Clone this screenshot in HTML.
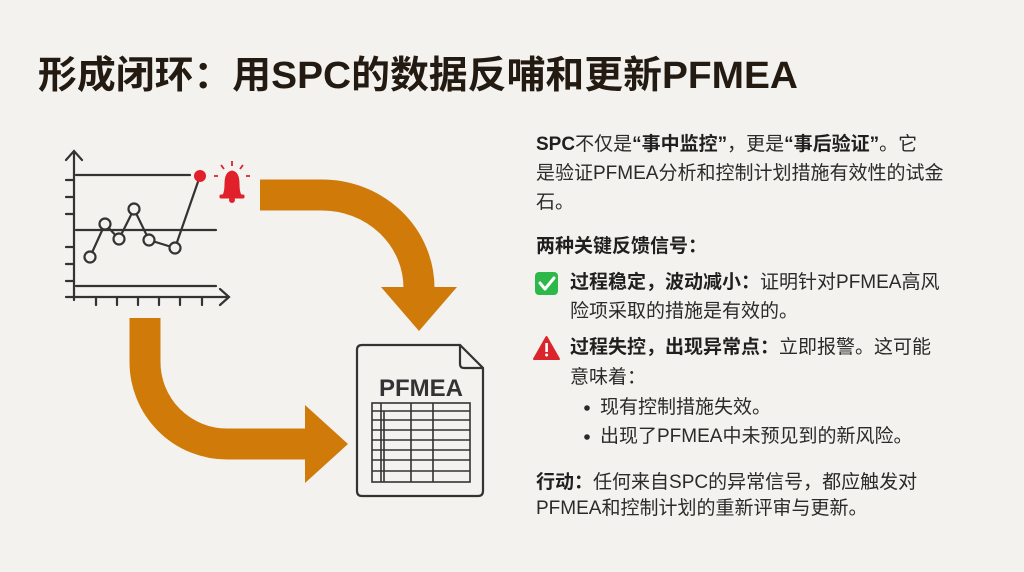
<!DOCTYPE html>
<html><head><meta charset="utf-8">
<style>
body{margin:0;width:1024px;height:572px;background:#f3f2ee;overflow:hidden;position:relative;font-family:"Liberation Sans","Noto Sans CJK SC",sans-serif;color:#2a2a2a}
.l{position:absolute;font-size:19px;line-height:29px;white-space:nowrap}
b{font-weight:bold;color:#1f1f1f}
</style></head><body>
<svg width="1024" height="572" style="position:absolute;left:0;top:0">
<text x="38" y="88" font-family="Liberation Sans,Noto Sans CJK SC,sans-serif" font-weight="bold" font-size="38" fill="#231a12" textLength="760" lengthAdjust="spacingAndGlyphs">形成闭环：用SPC的数据反哺和更新PFMEA</text>
<!-- chart -->
<g stroke="#333" stroke-width="2.2" fill="none" stroke-linecap="round">
<path d="M74 300 V152 M66 160 L74 151 L82 160"/>
<path d="M66 297 H228 M220 289 L229 297 L220 305"/>
<path d="M66 180H74 M66 197H74 M66 214H74 M66 247H74 M66 264H74 M66 281H74"/>
<path d="M96 297V305 M117 297V305 M138 297V305 M159 297V305 M180 297V305 M202 297V305"/>
<path d="M76 175H190 M76 230H216 M76 286H216"/>
<path d="M90 257 L105 224 L119 239 L134 209 L149 240 L175 248 L200 176"/>
</g>
<g stroke="#333" stroke-width="2.2" fill="#f3f2ee">
<circle cx="90" cy="257" r="5.5"/><circle cx="105" cy="224" r="5.5"/><circle cx="119" cy="239" r="5.5"/><circle cx="134" cy="209" r="5.5"/><circle cx="149" cy="240" r="5.5"/><circle cx="175" cy="248" r="5.5"/>
</g>
<circle cx="200" cy="176" r="6" fill="#e0202a"/>
<!-- bell -->
<g fill="#e0202a" stroke="#e0202a">
<path d="M223 195 Q225 192 225 184 Q225 172 232 171 Q239 172 239 184 Q239 192 241 195 Z" stroke-width="1"/>
<rect x="220" y="195" width="24" height="3" rx="1"/>
<circle cx="232" cy="200" r="2.5"/>
<path d="M232 161V166 M221 165L224 169 M243 165L240 169 M214 176H218 M246 176H250" stroke-width="1.8" fill="none"/>
</g>
<!-- arrows -->
<g stroke="#d07a0a" stroke-width="31" fill="none">
<path d="M260 195 H322 A97 93 0 0 1 419 288"/>
<path d="M145 318 V362 A82 82 0 0 0 227 444 H306"/>
</g>
<g fill="#d07a0a">
<path d="M381 287 H457 L419 331 Z"/>
<path d="M305 405 V483 L348 444 Z"/>
</g>
<!-- doc -->
<path d="M362 345 H460 L483 368 V491 Q483 496 478 496 H362 Q357 496 357 491 V350 Q357 345 362 345 Z" fill="#f3f2ee" stroke="#333" stroke-width="2.2"/>
<path d="M460 345 V364 Q460 368 464 368 H483" fill="none" stroke="#333" stroke-width="2.2"/>
<text x="421" y="396" text-anchor="middle" font-family="Liberation Sans,sans-serif" font-weight="bold" font-size="24" fill="#333">PFMEA</text>
<g stroke="#333" stroke-width="1.6" fill="none">
<rect x="372" y="403" width="98" height="79"/>
<path d="M372 411H470 M372 420H470 M372 430H470 M372 440H470 M372 450H470 M372 460H470 M372 471H470"/>
<path d="M381 403V482 M384 411V482 M411 403V482 M433 403V482"/>
</g>
<!-- icons -->
<rect x="535" y="272" width="23" height="23" rx="4" fill="#2eb84a"/>
<path d="M540 283 L545 289 L554 278" stroke="#fff" stroke-width="3" fill="none" stroke-linecap="round" stroke-linejoin="round"/>
<path d="M546.5 337 L559 359 H534 Z" fill="#d9252b" stroke="#d9252b" stroke-width="2" stroke-linejoin="round"/>
<rect x="545.3" y="343" width="2.6" height="9" fill="#fff"/><circle cx="546.6" cy="355" r="1.5" fill="#fff"/>
<circle cx="587" cy="408" r="2.8" fill="#2a2a2a"/><circle cx="587" cy="437" r="2.8" fill="#2a2a2a"/>
</svg>
<div class="l" style="left:536px;top:130px"><b>SPC</b>不仅是<b>“事中监控”</b>，更是<b>“事后验证”</b>。它</div>
<div class="l" style="left:536px;top:159px">是验证PFMEA分析和控制计划措施有效性的试金</div>
<div class="l" style="left:536px;top:188px">石。</div>
<div class="l" style="left:536px;top:232px"><b>两种关键反馈信号：</b></div>
<div class="l" style="left:570px;top:268px"><b>过程稳定，波动减小：</b>证明针对PFMEA高风</div>
<div class="l" style="left:570px;top:297px">险项采取的措施是有效的。</div>
<div class="l" style="left:570px;top:333px"><b>过程失控，出现异常点：</b>立即报警。这可能</div>
<div class="l" style="left:570px;top:363px">意味着：</div>
<div class="l" style="left:600px;top:393px">现有控制措施失效。</div>
<div class="l" style="left:600px;top:422px">出现了PFMEA中未预见到的新风险。</div>
<div class="l" style="left:536px;top:468px"><b>行动：</b>任何来自SPC的异常信号，都应触发对</div>
<div class="l" style="left:536px;top:494px">PFMEA和控制计划的重新评审与更新。</div>
</body></html>
